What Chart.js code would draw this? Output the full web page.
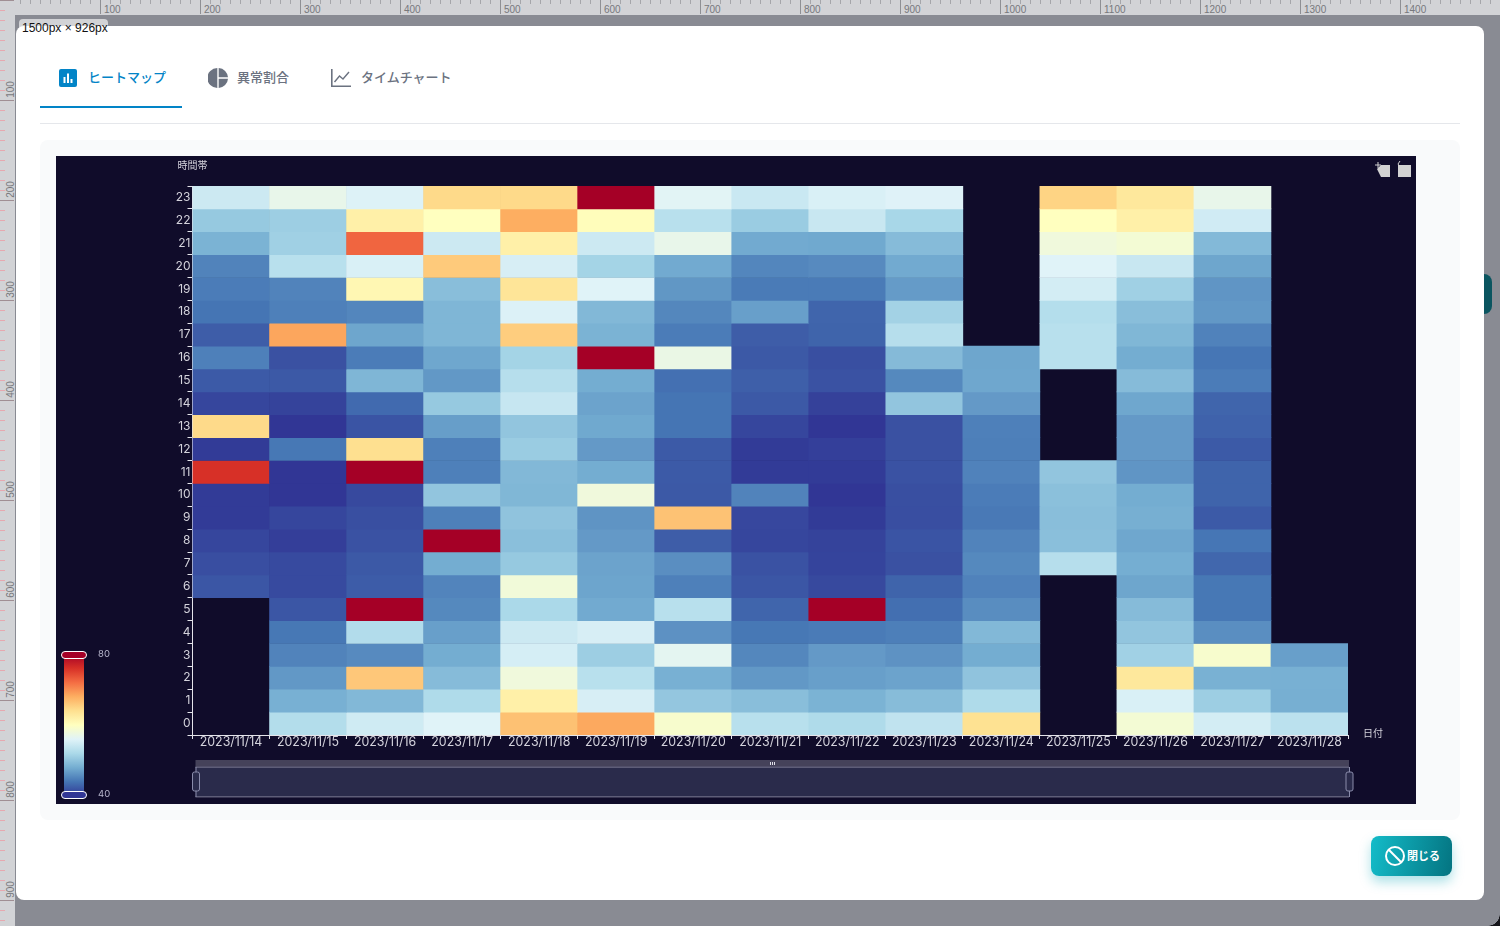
<!DOCTYPE html>
<html lang="ja">
<head>
<meta charset="utf-8">
<title>ヒートマップ</title>
<script src="https://cdn.jsdelivr.net/npm/chart.js@4"></script>
<style>
*{box-sizing:border-box}
html,body{margin:0;padding:0;width:1500px;height:926px;overflow:hidden;background:#898b93;font-family:"Noto Sans CJK JP","Noto Sans",sans-serif}
.rul{position:absolute;background-color:#d2d3d6;overflow:hidden}
#rt{left:0;top:0;width:1500px;height:15px;
background-image:repeating-linear-gradient(90deg,#8f9094 0 1px,transparent 1px 100px),repeating-linear-gradient(90deg,#a5a6aa 0 1px,transparent 1px 10px);
background-size:100% 14px,100% 4px;background-repeat:no-repeat}
#rl{left:0;top:0;width:15px;height:926px;
background-image:repeating-linear-gradient(180deg,#a08f94 0 1px,transparent 1px 100px),repeating-linear-gradient(180deg,#e6a9b0 0 1px,transparent 1px 10px);
background-size:14px 100%,5px 100%;background-repeat:no-repeat}
.rn{position:absolute;font:10px "Liberation Sans",sans-serif;color:#77787c;white-space:nowrap}
#modal{position:absolute;left:16px;top:26px;width:1468px;height:874px;background:#fff;border-radius:8px}
#peek{position:absolute;left:1480px;top:274px;width:12px;height:40px;border-radius:0 8px 8px 0;background:#0b5560}
#chip{position:absolute;left:19px;top:19px;height:16px;width:89px;background:#d2d3d6;border-radius:4px 4px 0 0}
#chipt{position:absolute;left:22px;top:21px;font:12px "Liberation Sans",sans-serif;color:#111;white-space:nowrap}
#corner{position:absolute;left:1488px;top:914px;width:12px;height:12px;background:radial-gradient(circle at 0 0,transparent 11.5px,#15151a 12px)}
.tab{position:absolute;font-size:13px;line-height:16px;font-weight:500;color:#6b7280;white-space:nowrap}
#uline{position:absolute;left:40px;top:106px;width:142px;height:2px;background:#0284c7}
#div{position:absolute;left:40px;top:123px;width:1420px;height:1px;background:#e5e7eb}
#panel{position:absolute;left:40px;top:140px;width:1420px;height:680px;background:#f9fafb;border-radius:8px}
#chart{position:absolute;left:56px;top:156px;width:1360px;height:648px;display:block}
#close{position:absolute;left:1371px;top:836px;width:81px;height:40px;border-radius:8px;background:linear-gradient(100deg,#13bcc9,#047481);box-shadow:0 6px 12px rgba(20,170,185,.35);color:#fff;font-size:11px;font-weight:700;line-height:39px}
#close svg{position:absolute;left:13px;top:9px}
#close span{position:absolute;left:36px;top:0;white-space:nowrap}
</style>
</head>
<body>
<div class="rul" id="rt"></div>
<div class="rul" id="rl"></div>
<div id="corner"></div>
<div id="peek"></div>
<div id="chip"></div>
<div id="modal"></div>
<div id="chipt">1500px × 926px</div>

<svg style="position:absolute;left:59px;top:69px" width="18" height="18" viewBox="0 0 18 18"><rect width="18" height="18" rx="2" fill="#0284c7"/><rect x="4.5" y="8" width="2" height="6" fill="#fff"/><rect x="8" y="4.5" width="2" height="9.5" fill="#fff"/><rect x="11.5" y="10" width="2" height="4" fill="#fff"/></svg>
<div class="tab" style="left:88px;top:69px;color:#0284c7">ヒートマップ</div>
<svg style="position:absolute;left:208px;top:68px" width="20" height="20" viewBox="0 0 20 20"><path d="M9.3 0v20A10 10 0 0 1 9.3 0z" fill="#6b7280"/><path d="M10.7 0A10 10 0 0 1 20 9.3h-9.3z" fill="#6b7280"/><path d="M10.7 10.7H20A10 10 0 0 1 10.7 20z" fill="#6b7280"/></svg>
<div class="tab" style="left:237px;top:69px">異常割合</div>
<svg style="position:absolute;left:331px;top:69px" width="20" height="18" viewBox="0 0 20 18"><path d="M.8 0v17.2H20" fill="none" stroke="#6b7280" stroke-width="1.6"/><path d="M3.5 13l5-6 3.5 3 6-7" fill="none" stroke="#6b7280" stroke-width="1.4"/></svg>
<div class="tab" style="left:361px;top:69px">タイムチャート</div>
<div id="uline"></div>
<div id="div"></div>
<div id="panel"></div>
<canvas id="chart" width="1360" height="648"></canvas>
<div id="close"><svg width="22" height="22" viewBox="0 0 22 22"><circle cx="11" cy="11" r="9" fill="none" stroke="#fff" stroke-width="2"/><path d="M4.8 4.8l12.4 12.4" stroke="#fff" stroke-width="2"/></svg><span>閉じる</span></div>

<script>
// ---------- data ----------
const dates = ['2023/11/14','2023/11/15','2023/11/16','2023/11/17','2023/11/18','2023/11/19','2023/11/20','2023/11/21','2023/11/22','2023/11/23','2023/11/24','2023/11/25','2023/11/26','2023/11/27','2023/11/28'];
const hourLabels = ['23','22','21','20','19','18','17','16','15','14','13','12','11','10','9','8','7','6','5','4','3','2','1','0'];
// each list runs from hour 23 down to hour 0
const d1114 = [54.5,50.5,48.5,45,44.5,44,42.5,44.8,42.3,41,64.5,40.3,76,40.3,40.3,41,41.5,42,null,null,null,null,null,null];
const d1115 = [57,51,51.2,53,45,44.8,68.5,41.7,42.2,40.8,40,44.2,40,40,41,40.5,41.3,41.3,42,44.2,45,46.5,48.3,52.6];
const d1116 = [55.8,62,72.5,55.5,61,45.2,47.5,44.5,48.8,43.3,41.9,64,80,41.2,41.6,41.8,42.2,42.4,80,52.5,45.5,66,49,54.7];
const d1117 = [64.5,60,54.5,65.8,49.5,48.8,48.8,47.6,46.5,50.5,46.9,44.8,44.8,50.2,44.8,80,48,45.1,45.4,47,48,49.3,52.3,56];
const d1118 = [64.5,68,62,55.3,63.3,55.7,65.5,51.5,52.8,54,50.2,50.8,49,48.9,50,49.6,50.5,58.2,52,54.5,55.2,58,62,66.5];
const d1119 = [80,60.3,54.5,51.5,56,49,48.5,80,48,47.3,47.7,46.6,48,58,46.2,46.6,47.3,47.4,47.8,55.3,51,53,55.3,68.3];
const d1120 = [56.2,53,57,47.8,46.4,45.3,44.5,57.3,43.7,44,44,42.3,42.3,42.2,66.4,42.5,45.8,44.8,53,46,56.5,48.3,50.3,59];
const d1121 = [54.3,50.8,47.8,45.2,44.4,47,42.5,42.2,42.6,42.2,41,40.3,40.3,45,41.1,41,41.8,42,43,44.2,45.3,46.5,49.5,53];
const d1122 = [55.5,54.2,47.7,45.5,44.4,43,42.9,41.6,41.8,40.7,40,40.6,40.3,40,40.3,40.8,40.9,41.2,80,44.4,46.6,47,48.5,52.3];
const d1123 = [55.9,51.8,49.3,47.8,46.7,51.4,52.8,49.2,45.4,50.2,41.7,41.7,41.8,41.6,41.5,41.9,41.7,42.9,43.6,44.7,46.1,47.3,49.4,53.6];
const d1124 = [null,null,null,null,null,null,null,47.5,47.6,46.6,44.8,44.7,44.9,44.5,44.3,45,45.4,44.9,45.7,49,48,50,52.3,63.8];
const d1125 = [65,60,58,56,55,52.7,53,53,null,null,null,null,50.2,49.7,49.5,49.6,52.8,null,null,null,null,null,null,null];
const d1126 = [63,62,58.5,54.2,51.2,49.5,48.9,48,49.3,47.6,46.6,46.6,46.3,48,48.2,47.6,48.1,47.5,49.3,50.2,51.3,63,55.5,58.5];
const d1127 = [57,54.8,49.1,47.5,46.3,46.5,44.9,44.1,44.5,43,42.8,42.3,42.9,42.9,42.3,44.1,43.1,44.2,44.2,45.8,59,48.4,51,55];
const d1128 = [null,null,null,null,null,null,null,null,null,null,null,null,null,null,null,null,null,null,null,null,47,48.3,48.2,53.2];
const columns = [d1114,d1115,d1116,d1117,d1118,d1119,d1120,d1121,d1122,d1123,d1124,d1125,d1126,d1127,d1128];
const valueMin = 40, valueMax = 80;
const palette = ['#313695','#4575b4','#74add1','#abd9e9','#e0f3f8','#ffffbf','#fee090','#fdae61','#f46d43','#d73027','#a50026'];

// ---------- helpers ----------
const hex = h => [1,3,5].map(i => parseInt(h.substr(i,2),16));
function colorOf(v){
  const t = Math.min(1,Math.max(0,(v-valueMin)/(valueMax-valueMin)))*(palette.length-1);
  const i = Math.min(palette.length-2,Math.floor(t)), f = t-i;
  const a = hex(palette[i]), b = hex(palette[i+1]);
  return 'rgb('+a.map((c,k)=>Math.round(c+(b[k]-c)*f)).join(',')+')';
}
const labelColor = '#d4d3dc', axisColor = '#e4e4ea';
const xFont = {family:'Inter, "Liberation Sans", sans-serif', size:12.4};
const yFont = {family:'Inter, "Liberation Sans", sans-serif', size:12};

// rulers
const rt = document.getElementById('rt'), rl = document.getElementById('rl');
for(let n=100;n<=1400;n+=100){
  const s=document.createElement('span');s.className='rn';s.textContent=n;
  s.style.left=(n+4)+'px';s.style.top='4px';rt.appendChild(s);
}
for(let n=100;n<=900;n+=100){
  const s=document.createElement('span');s.className='rn';s.textContent=n;
  s.style.left='-3px';s.style.top=(n-16)+'px';s.style.transform='rotate(-90deg)';s.style.width='26px';s.style.textAlign='center';rl.appendChild(s);
}

// ---------- chart ----------
const datasets = hourLabels.map((lab,hi)=>{
  const h = Number(lab);
  return {
    label: lab+'時',
    data: dates.map((d,di)=> columns[di][hi]===null ? {x:d,y:null,v:null} : {x:d,y:[h,h+1],v:columns[di][hi]}),
    backgroundColor: ctx => ctx.raw && ctx.raw.v!==null ? colorOf(ctx.raw.v) : 'transparent',
    borderWidth:0, categoryPercentage:1, barPercentage:1, grouped:false, yAxisID:'y', xAxisID:'x'
  };
});

const extras = {
  id:'extras',
  beforeDraw(c){ const g=c.ctx; g.save(); g.fillStyle='#100c2a'; g.fillRect(0,0,c.width,c.height); g.restore(); },
  afterDraw(c){
    const g=c.ctx, ca=c.chartArea; g.save();
    // axis names
    g.fillStyle=labelColor; g.font='10px "Noto Sans CJK JP"'; g.textBaseline='middle'; g.textAlign='left';
    g.fillText('時間帯',ca.left-15,9.5);
    g.fillText('日付',ca.right+15,ca.bottom-2);

    // visual map
    const vx=8, vw=20, vt=498, vb=640;
    const gr=g.createLinearGradient(0,vb,0,vt);
    palette.forEach((p,i)=>gr.addColorStop(i/(palette.length-1),p));
    g.fillStyle=gr; g.fillRect(vx,vt,vw,vb-vt);
    const pill=(y,col)=>{g.beginPath();g.roundRect(vx-2.5,y,25,7,3.5);g.fillStyle=col;g.fill();g.strokeStyle='#fff';g.lineWidth=1;g.stroke();};
    pill(495.5,colorOf(valueMax)); pill(635.5,colorOf(valueMin));
    g.fillStyle='#b9b8ce'; g.font='9.5px Inter'; g.fillText(String(valueMax),42,498); g.fillText(String(valueMin),42,638);

    // data-zoom slider
    const sl=ca.left+3, sr=ca.right+1, st=604, sm=611, sb=641;
    g.fillStyle='#45425a'; g.fillRect(sl,st,sr-sl,sm-st);
    g.fillStyle='#2a2b4b'; g.fillRect(sl,sm,sr-sl,sb-sm);
    g.fillStyle='#5e5d78'; g.fillRect(sl,sm-0.5,sr-sl,1.5); g.fillRect(sl,sb-1,sr-sl,1.5);
    g.fillStyle='#dfdfe8'; [714,716,718].forEach(x=>g.fillRect(x,606,1,3));
    [sl,sr].forEach(x=>{
      g.strokeStyle='#8a8cab'; g.lineWidth=1;
      g.beginPath();g.moveTo(x+.5,sm);g.lineTo(x+.5,sb);g.stroke();
      g.beginPath();g.roundRect(x-3,616,7,19,2);g.fillStyle='#2a2b4b';g.fill();g.stroke();
    });

    // toolbox
    g.fillStyle='#d2d2d2'; g.strokeStyle='#d2d2d2'; g.lineWidth=1;
    g.beginPath();g.moveTo(1325,9);g.lineTo(1334,9);g.lineTo(1334,21);g.lineTo(1325,21);g.lineTo(1321,13);g.closePath();g.fill();
    g.beginPath();g.moveTo(1319,9);g.lineTo(1325,9);g.moveTo(1322,6);g.lineTo(1322,12);g.stroke();
    g.beginPath();g.rect(1342,9,13,12);g.fill();
    g.beginPath();g.moveTo(1344,5);g.lineTo(1342,8);g.lineTo(1344,11);g.stroke();
    g.restore();
  }
};

new Chart(document.getElementById('chart'),{
  type:'bar',
  data:{labels:dates,datasets},
  plugins:[extras],
  options:{
    responsive:false, animation:false, devicePixelRatio:1,
    layout:{padding:{left:0,right:68,top:30,bottom:0}},
    plugins:{legend:{display:false},tooltip:{enabled:false},title:{display:false}},
    scales:{
      x:{
        type:'category', offset:true, stacked:false,
        grid:{offset:true,drawOnChartArea:false,tickLength:4,tickColor:axisColor,color:axisColor},
        border:{color:axisColor,width:1},
        ticks:{color:labelColor,font:xFont,maxRotation:0,minRotation:0,autoSkip:false,padding:-4},
        afterFit(s){s.height=69;}
      },
      y:{type:'linear',display:false,min:0,max:24},
      yHours:{
        type:'category',position:'left',labels:hourLabels,offset:true,
        grid:{offset:true,drawOnChartArea:false,tickLength:5,tickColor:axisColor,color:axisColor},
        border:{color:axisColor,width:1},
        ticks:{color:labelColor,font:yFont,autoSkip:false,padding:-3},
        afterFit(s){s.width=136.5;}
      }
    }
  }
});
</script>
</body>
</html>
